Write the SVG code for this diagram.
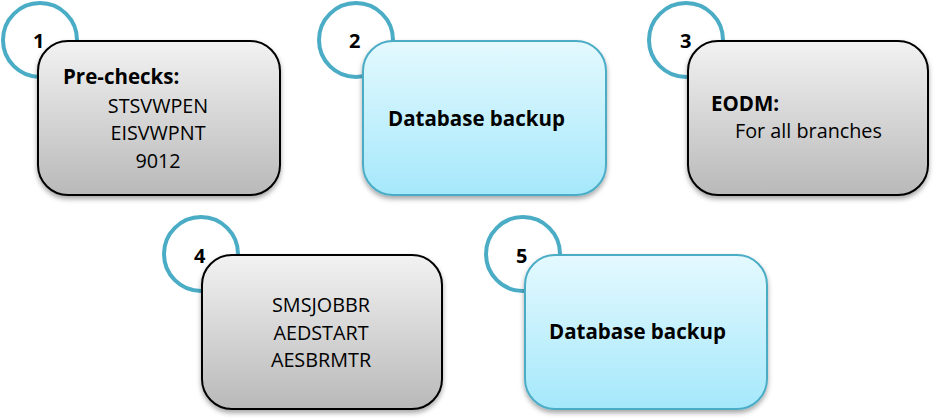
<svg xmlns="http://www.w3.org/2000/svg" width="936" height="420" viewBox="0 0 936 420">
<defs>
<linearGradient id="gGray" x1="0" y1="0" x2="0" y2="1">
<stop offset="0" stop-color="#f2f2f2"/>
<stop offset="1" stop-color="#b9b9b9"/>
</linearGradient>
<linearGradient id="gBlue" x1="0" y1="0" x2="0" y2="1">
<stop offset="0" stop-color="#e4f9fe"/>
<stop offset="1" stop-color="#a5e8fb"/>
</linearGradient>
<filter id="sh" x="-10%" y="-10%" width="120%" height="130%">
<feDropShadow dx="0" dy="3" stdDeviation="2.5" flood-color="#000" flood-opacity="0.35"/>
</filter>
</defs>
<style>
.circ{fill:#fff;stroke:#4bacc6;stroke-width:4}
.gray{fill:url(#gGray);stroke:#000;stroke-width:2;filter:url(#sh)}
.blue{fill:url(#gBlue);stroke:#4bacc6;stroke-width:2;filter:url(#sh)}
text{font-family:"Open Sans","Liberation Sans",Arial,sans-serif;fill:#000}
.num{font-size:20px;font-weight:bold}
.b{font-size:20.5px;font-weight:bold}
.r{font-size:19.8px}
.c{text-anchor:middle}
</style>
<rect width="936" height="420" fill="#fff"/>
<g id="connectors"></g>
<g id="node1">
<circle class="circ" cx="40" cy="40" r="37"/>
<text class="num" x="33" y="48">1</text>
<rect class="gray" x="38" y="41" width="242" height="154" rx="30"/>
<text class="b" x="63" y="84">Pre-checks:</text>
<text class="r c" x="158" y="113">STSVWPEN</text>
<text class="r c" x="158" y="140">EISVWPNT</text>
<text class="r c" x="158" y="168">9012</text>
</g>
<g id="node2">
<circle class="circ" cx="356" cy="40" r="37"/>
<text class="num" x="349" y="48">2</text>
<rect class="blue" x="363" y="41" width="243" height="154" rx="30"/>
<text class="b" x="388" y="126">Database backup</text>
</g>
<g id="node3">
<circle class="circ" cx="686" cy="40" r="37"/>
<text class="num" x="680" y="48">3</text>
<rect class="gray" x="688" y="41" width="240" height="154" rx="30"/>
<text class="b" x="711" y="111">EODM:</text>
<text class="r" x="735" y="138">For all branches</text>
</g>
<g id="node4">
<circle class="circ" cx="201" cy="254" r="37"/>
<text class="num" x="194" y="263">4</text>
<rect class="gray" x="202" y="255" width="240" height="154" rx="30"/>
<text class="r c" x="321" y="312">SMSJOBBR</text>
<text class="r c" x="321" y="340">AEDSTART</text>
<text class="r c" x="321" y="367">AESBRMTR</text>
</g>
<g id="node5">
<circle class="circ" cx="523" cy="254" r="37"/>
<text class="num" x="516" y="263">5</text>
<rect class="blue" x="525" y="255" width="242" height="154" rx="30"/>
<text class="b" x="549" y="339">Database backup</text>
</g>
</svg>
